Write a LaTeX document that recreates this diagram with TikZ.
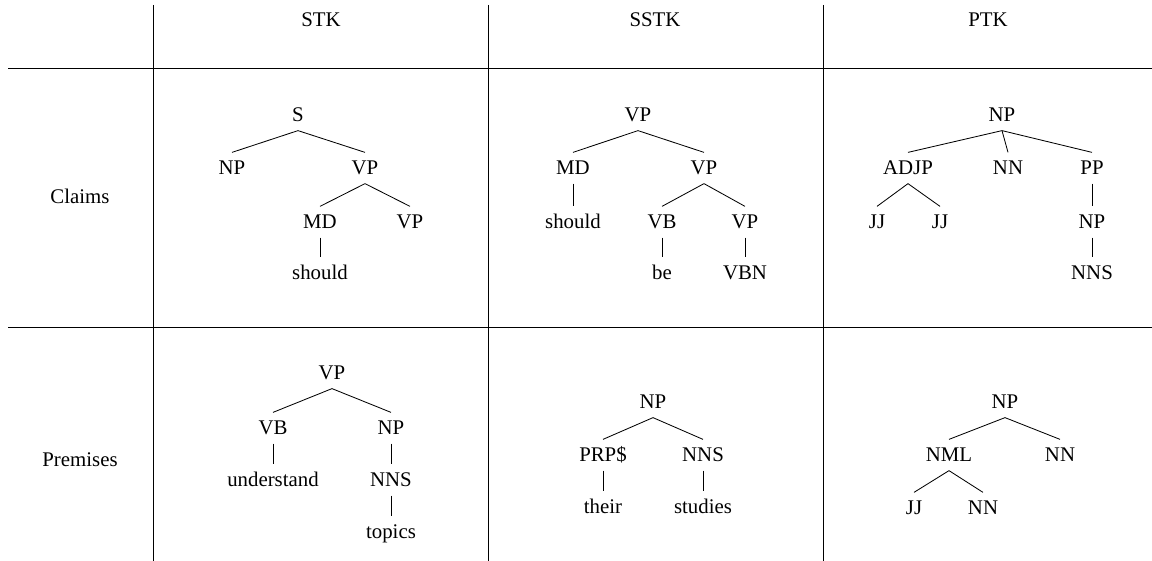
\documentclass[tikz,border=0pt]{standalone}
\usepackage{fontspec}
\setmainfont{Liberation Serif}

\begin{document}
\begin{tikzpicture}[x=0.48pt, y=-0.48pt,
    tag/.style={inner xsep=1pt, inner ysep=4pt, text height=6.6pt, text depth=0pt}]
    \useasboundingbox (0,0) rectangle (1152,561);
    % table rules
    \foreach \y in {68,327}
        \draw (8,\y) -- (1152,\y);
    \foreach \x in {153,488,823}
        \draw (\x,5) -- (\x,561);
    \foreach \x/\kernel in {321/STK, 655/SSTK, 988/PTK}
        \node[tag] (h\kernel) at (\x,20) {\kernel};
    \node[tag] (claims) at (80,197) {Claims};
    \node[tag] (premises) at (80,460) {Premises};

    % STK, claims
    \node[tag] (aS) at (298,115) {S};
    \node[tag] (aNP) at (232,168) {NP};
    \node[tag] (aVP) at (365,168) {VP};
    \node[tag] (aMD) at (320,222) {MD};
    \node[tag] (aVPb) at (410,222) {VP};
    \node[tag] (ashould) at (320,273) {should};
    \foreach \p/\c in {aS/aNP, aS/aVP, aVP/aMD, aVP/aVPb, aMD/ashould}
        \draw (\p.south) -- (\c.north);

    % SSTK, claims
    \node[tag] (bVP) at (638,115) {VP};
    \node[tag] (bMD) at (573,168) {MD};
    \node[tag] (bVPb) at (704,168) {VP};
    \node[tag] (bshould) at (573,222) {should};
    \node[tag] (bVB) at (662,222) {VB};
    \node[tag] (bVPc) at (745,222) {VP};
    \node[tag] (bbe) at (662,273) {be};
    \node[tag] (bVBN) at (745,273) {VBN};
    \foreach \p/\c in {bVP/bMD, bVP/bVPb, bMD/bshould, bVPb/bVB, bVPb/bVPc, bVB/bbe, bVPc/bVBN}
        \draw (\p.south) -- (\c.north);

    % PTK, claims
    \node[tag] (cNP) at (1002,115) {NP};
    \node[tag] (cADJP) at (908,168) {ADJP};
    \node[tag] (cNN) at (1008,168) {NN};
    \node[tag] (cPP) at (1092,168) {PP};
    \node[tag] (cJJa) at (877,222) {JJ};
    \node[tag] (cJJb) at (940,222) {JJ};
    \node[tag] (cNPb) at (1092,222) {NP};
    \node[tag] (cNNS) at (1092,273) {NNS};
    \foreach \p/\c in {cNP/cADJP, cNP/cNN, cNP/cPP, cADJP/cJJa, cADJP/cJJb, cPP/cNPb, cNPb/cNNS}
        \draw (\p.south) -- (\c.north);

    % STK, premises
    \node[tag] (dVP) at (332,373) {VP};
    \node[tag] (dVB) at (273,428) {VB};
    \node[tag] (dNP) at (391,428) {NP};
    \node[tag] (dunderstand) at (273,480) {understand};
    \node[tag] (dNNS) at (391,480) {NNS};
    \node[tag] (dtopics) at (391,532) {topics};
    \foreach \p/\c in {dVP/dVB, dVP/dNP, dVB/dunderstand, dNP/dNNS, dNNS/dtopics}
        \draw (\p.south) -- (\c.north);

    % SSTK, premises
    \node[tag] (eNP) at (653,402) {NP};
    \node[tag] (ePRP) at (603,455) {PRP\$};
    \node[tag] (eNNS) at (703,455) {NNS};
    \node[tag] (etheir) at (603,507) {their};
    \node[tag] (estudies) at (703,507) {studies};
    \foreach \p/\c in {eNP/ePRP, eNP/eNNS, ePRP/etheir, eNNS/estudies}
        \draw (\p.south) -- (\c.north);

    % PTK, premises
    \node[tag] (fNP) at (1005,402) {NP};
    \node[tag] (fNML) at (949,455) {NML};
    \node[tag] (fNN) at (1060,455) {NN};
    \node[tag] (fJJ) at (914,508) {JJ};
    \node[tag] (fNNb) at (983,508) {NN};
    \foreach \p/\c in {fNP/fNML, fNP/fNN, fNML/fJJ, fNML/fNNb}
        \draw (\p.south) -- (\c.north);
\end{tikzpicture}
\end{document}
